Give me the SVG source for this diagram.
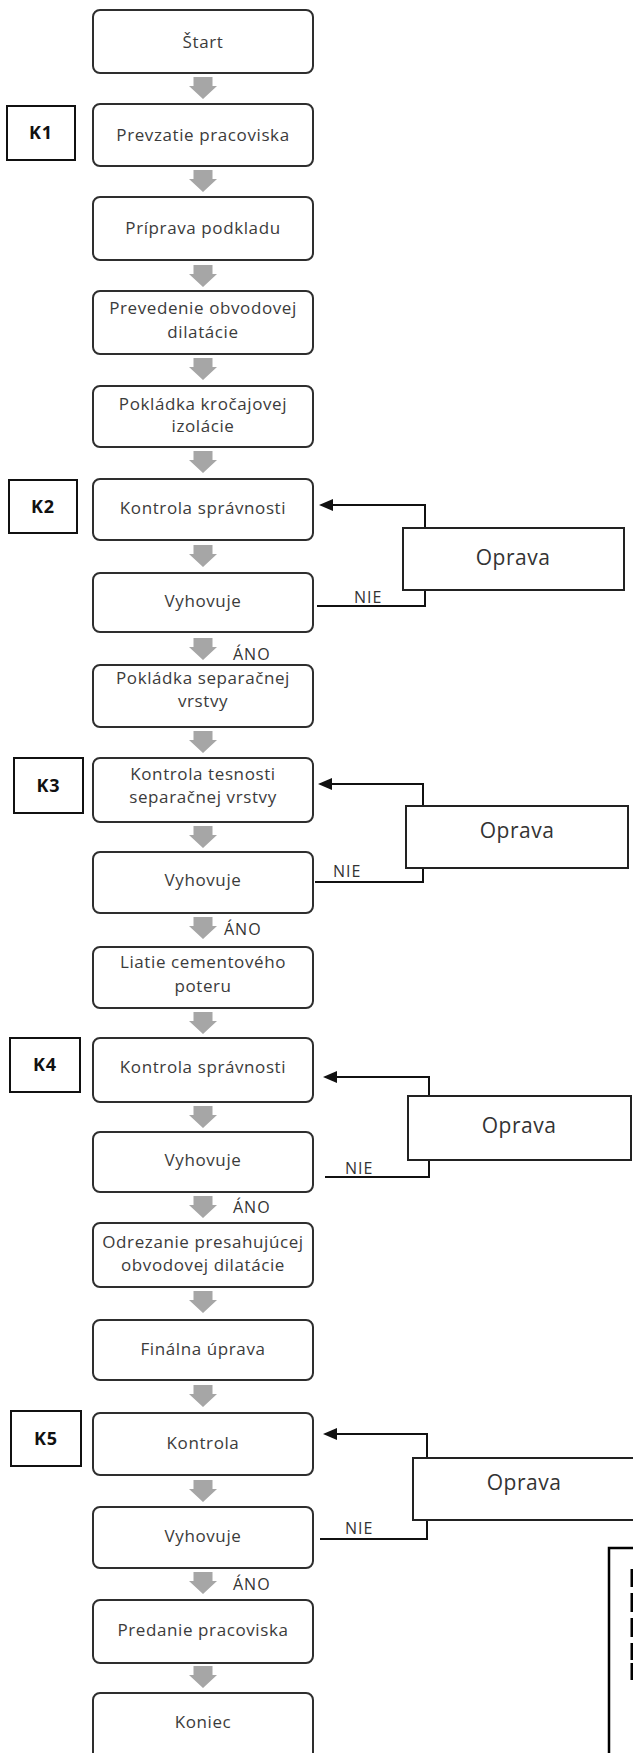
<svg xmlns="http://www.w3.org/2000/svg" xmlns:xlink="http://www.w3.org/1999/xlink" width="633" height="1753" viewBox="0 0 633 1753">
<style>
.bx{fill:#fff;stroke:#2e2e2e;stroke-width:2}
.kb{fill:#fff;stroke:#111;stroke-width:2}
.ob{fill:#fff;stroke:#222;stroke-width:2}
.t{font-family:'Open Sans','Liberation Sans',sans-serif;font-size:17px;letter-spacing:0.6px;fill:#3b3b3b;text-anchor:middle}
.k{font-family:'Open Sans','Liberation Sans',sans-serif;font-size:18px;font-weight:bold;letter-spacing:1px;fill:#111;text-anchor:middle}
.op{font-family:'Open Sans','Liberation Sans',sans-serif;font-size:21px;letter-spacing:0.5px;fill:#333;text-anchor:middle}
.lb{font-family:'Open Sans','Liberation Sans',sans-serif;font-size:16px;letter-spacing:1px;fill:#333}
.fb{fill:none;stroke:#111;stroke-width:2}
.ga{fill:#a6a6a6}
</style>
<defs>
<path id="ga" d="M-9.5 0H9.5V9H14L0 22L-14 9H-9.5Z"/>
</defs>
<rect width="633" height="1753" fill="#fff"/>
<g id="connectors">
<g class="ga">
<use xlink:href="#ga" x="203" y="77"/>
<use xlink:href="#ga" x="203" y="170"/>
<use xlink:href="#ga" x="203" y="265"/>
<use xlink:href="#ga" x="203" y="358"/>
<use xlink:href="#ga" x="203" y="451"/>
<use xlink:href="#ga" x="203" y="545"/>
<use xlink:href="#ga" x="203" y="638"/>
<use xlink:href="#ga" x="203" y="731"/>
<use xlink:href="#ga" x="203" y="826"/>
<use xlink:href="#ga" x="203" y="917"/>
<use xlink:href="#ga" x="203" y="1012"/>
<use xlink:href="#ga" x="203" y="1106"/>
<use xlink:href="#ga" x="203" y="1196"/>
<use xlink:href="#ga" x="203" y="1291"/>
<use xlink:href="#ga" x="203" y="1385"/>
<use xlink:href="#ga" x="203" y="1480"/>
<use xlink:href="#ga" x="203" y="1572"/>
<use xlink:href="#ga" x="203" y="1666"/>
</g>
<path class="fb" d="M317 606H425V505H332"/>
<polygon points="319,505 333,499 333,511" fill="#111"/>
<path class="fb" d="M315 882H423V784H331"/>
<polygon points="318,784 332,778 332,790" fill="#111"/>
<path class="fb" d="M325 1177H429V1077H336"/>
<polygon points="323,1077 337,1071 337,1083" fill="#111"/>
<path class="fb" d="M320 1539H427V1434H336"/>
<polygon points="323,1434 337,1428 337,1440" fill="#111"/>
<text class="lb" x="354" y="603">NIE</text>
<text class="lb" x="333" y="877">NIE</text>
<text class="lb" x="345" y="1174">NIE</text>
<text class="lb" x="345" y="1534">NIE</text>
<text class="lb" x="233" y="660">ÁNO</text>
<text class="lb" x="224" y="935">ÁNO</text>
<text class="lb" x="233" y="1213">ÁNO</text>
<text class="lb" x="233" y="1590">ÁNO</text>
</g>
<g id="n1"><rect class="bx" x="93" y="10" width="220" height="63" rx="7"/><text class="t" x="203" y="47.5">Štart</text></g>
<g id="n2"><rect class="bx" x="93" y="104" width="220" height="62" rx="7"/><text class="t" x="203" y="140.5">Prevzatie pracoviska</text></g>
<g id="n3"><rect class="bx" x="93" y="197" width="220" height="63" rx="7"/><text class="t" x="203" y="234">Príprava podkladu</text></g>
<g id="n4"><rect class="bx" x="93" y="291" width="220" height="63" rx="7"/><text class="t" x="203" y="314">Prevedenie obvodovej</text><text class="t" x="203" y="338">dilatácie</text></g>
<g id="n5"><rect class="bx" x="93" y="386" width="220" height="61" rx="7"/><text class="t" x="203" y="410">Pokládka kročajovej</text><text class="t" x="203" y="432">izolácie</text></g>
<g id="n6"><rect class="bx" x="93" y="479" width="220" height="61" rx="7"/><text class="t" x="203" y="514">Kontrola správnosti</text></g>
<g id="n7"><rect class="bx" x="93" y="573" width="220" height="59" rx="7"/><text class="t" x="203" y="607">Vyhovuje</text></g>
<g id="n8"><rect class="bx" x="93" y="665" width="220" height="62" rx="7"/><text class="t" x="203" y="684">Pokládka separačnej</text><text class="t" x="203" y="707">vrstvy</text></g>
<g id="n9"><rect class="bx" x="93" y="758" width="220" height="64" rx="7"/><text class="t" x="203" y="780">Kontrola tesnosti</text><text class="t" x="203" y="803">separačnej vrstvy</text></g>
<g id="n10"><rect class="bx" x="93" y="852" width="220" height="61" rx="7"/><text class="t" x="203" y="886">Vyhovuje</text></g>
<g id="n11"><rect class="bx" x="93" y="947" width="220" height="61" rx="7"/><text class="t" x="203" y="968">Liatie cementového</text><text class="t" x="203" y="992">poteru</text></g>
<g id="n12"><rect class="bx" x="93" y="1038" width="220" height="64" rx="7"/><text class="t" x="203" y="1073">Kontrola správnosti</text></g>
<g id="n13"><rect class="bx" x="93" y="1132" width="220" height="60" rx="7"/><text class="t" x="203" y="1166">Vyhovuje</text></g>
<g id="n14"><rect class="bx" x="93" y="1223" width="220" height="64" rx="7"/><text class="t" x="203" y="1248">Odrezanie presahujúcej</text><text class="t" x="203" y="1271">obvodovej dilatácie</text></g>
<g id="n15"><rect class="bx" x="93" y="1320" width="220" height="60" rx="7"/><text class="t" x="203" y="1355">Finálna úprava</text></g>
<g id="n16"><rect class="bx" x="93" y="1413" width="220" height="62" rx="7"/><text class="t" x="203" y="1449">Kontrola</text></g>
<g id="n17"><rect class="bx" x="93" y="1507" width="220" height="61" rx="7"/><text class="t" x="203" y="1542">Vyhovuje</text></g>
<g id="n18"><rect class="bx" x="93" y="1600" width="220" height="63" rx="7"/><text class="t" x="203" y="1636">Predanie pracoviska</text></g>
<g id="n19"><rect class="bx" x="93" y="1693" width="220" height="80" rx="7"/><text class="t" x="203" y="1728">Koniec</text></g>
<g id="k1"><rect class="kb" x="7" y="106" width="68" height="54"/><text class="k" x="41" y="139">K1</text></g>
<g id="k2"><rect class="kb" x="9" y="480" width="68" height="53"/><text class="k" x="43" y="513">K2</text></g>
<g id="k3"><rect class="kb" x="14" y="758" width="69" height="55"/><text class="k" x="48.5" y="792">K3</text></g>
<g id="k4"><rect class="kb" x="10" y="1038" width="70" height="54"/><text class="k" x="45" y="1071">K4</text></g>
<g id="k5"><rect class="kb" x="11" y="1411" width="70" height="55"/><text class="k" x="46" y="1445">K5</text></g>
<g id="o2"><rect class="ob" x="403" y="528" width="221" height="62"/><text class="op" x="513" y="565">Oprava</text></g>
<g id="o3"><rect class="ob" x="406" y="806" width="222" height="62"/><text class="op" x="517" y="838">Oprava</text></g>
<g id="o4"><rect class="ob" x="408" y="1096" width="223" height="64"/><text class="op" x="519" y="1133">Oprava</text></g>
<g id="o5"><rect class="ob" x="413" y="1458" width="240" height="62"/><text class="op" x="524" y="1490">Oprava</text></g>
<g id="legend">
<rect x="609" y="1548" width="60" height="230" fill="#fff" stroke="#000" stroke-width="2.5"/>
<rect x="630.5" y="1569" width="4" height="18" fill="#000"/>
<rect x="630.5" y="1593" width="4" height="19" fill="#000"/>
<rect x="630.5" y="1618" width="4" height="19" fill="#000"/>
<rect x="630.5" y="1643" width="4" height="17" fill="#000"/>
<rect x="630.5" y="1663" width="4" height="17" fill="#000"/>
</g>
</svg>
